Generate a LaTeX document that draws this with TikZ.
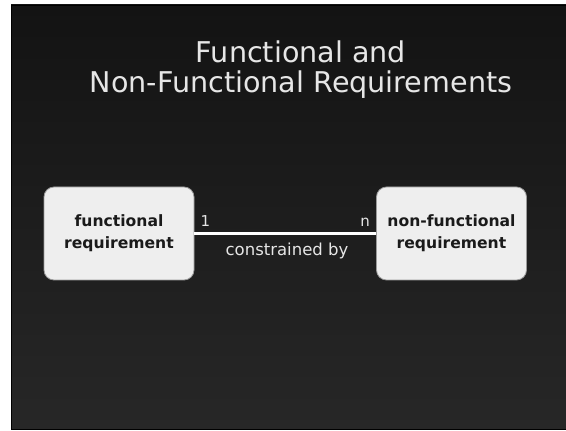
\documentclass[tikz,border=0pt]{standalone}
\usepackage{fontspec}
\setmainfont{DejaVu Sans}
\definecolor{bgtop}{HTML}{131313}
\definecolor{bgbot}{HTML}{272727}
\definecolor{boxfill}{HTML}{EEEEEE}
\definecolor{boxline}{HTML}{9A9A9A}
\definecolor{boxtext}{HTML}{1A1A1A}
\definecolor{titletext}{HTML}{E6E6E6}
\begin{document}
\begin{tikzpicture}[x=1pt,y=1pt,
  entity/.style={draw=boxline, line width=0.8pt, fill=boxfill, rounded corners=10pt,
    minimum width=150pt, minimum height=93pt, align=center, text=boxtext,
    font=\fontsize{15.6}{22}\selectfont\bfseries, inner sep=0pt},
  titlestyle/.style={text=titletext, font=\fontsize{28.6}{32}\selectfont, anchor=base, inner sep=0pt},
  lbl/.style={text=titletext, font=\fontsize{15}{18}\selectfont, inner sep=0pt},
  rel/.style={text=titletext, font=\fontsize{16.5}{18}\selectfont, inner sep=0pt},
  link/.style={draw=white, line width=3pt}]
\useasboundingbox (0,0) rectangle (566,431);
\fill[white] (0,0) rectangle (566,431);
\shade[top color=bgtop, bottom color=bgbot] (11,1) rectangle (566,426);
\draw[black, line width=0.8pt] (11.4,1.4) rectangle (567,425.6);
\node[titlestyle] (t1) at (301,368) {Functional and};
\node[titlestyle] (t2) at (301,338) {Non-Functional Requirements};
\node[entity] (fr) at (119,197.5) {functional\\requirement};
\node[entity] (nfr) at (451.5,197.5) {non-functional\\requirement};
\draw[link] (fr.east) -- (nfr.west);
\node[lbl, anchor=south west] (one) at ([xshift=6pt,yshift=7pt]fr.east) {1};
\node[lbl, anchor=south east] (en) at ([xshift=-6pt,yshift=7pt]nfr.west) {n};
\node[rel] (cb) at (287,180) {constrained by};
\end{tikzpicture}
\end{document}
